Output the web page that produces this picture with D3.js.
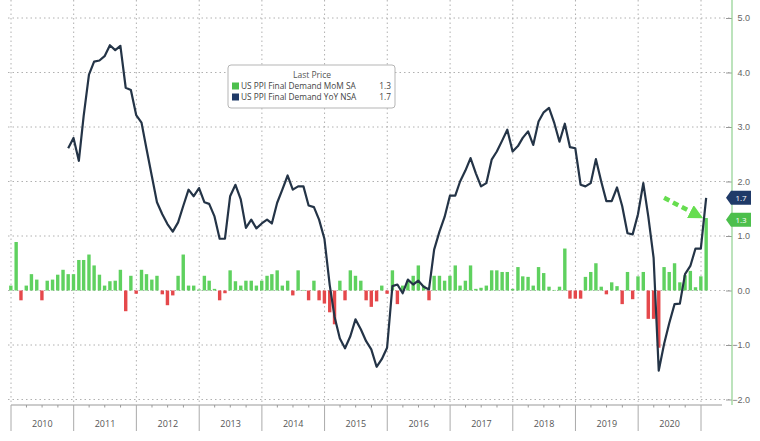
<!DOCTYPE html>
<html>
<head>
<meta charset="utf-8">
<script src="https://cdnjs.cloudflare.com/ajax/libs/d3/7.8.5/d3.min.js"></script>
<style>
body { margin: 0; background: #fff; }
svg { display: block; font-family: "Open Sans", "Liberation Sans", sans-serif; }
</style>
</head>
<body>
<div class="container"></div>
<script>
// monthly PPI final demand, MoM SA starts Dec 2009, YoY NSA starts Nov 2010
var momStart = [2009, 11];
var momValues = [
  0.09,
  0.89, -0.18, 0.09, 0.30, 0.20, -0.18, 0.18, 0.20, 0.29, 0.38, 0.30, 0.30,
  0.56, 0.56, 0.66, 0.46, 0.29, 0.09, 0.17, 0.18, 0.38, -0.38, 0.27, -0.06,
  0.38, 0.30, 0.20, 0.27, -0.07, -0.27, -0.09, 0.27, 0.66, 0.09, 0.09, 0.02,
  0.27, 0.18, 0.03, -0.18, -0.05, 0.37, 0.17, 0.09, 0.18, 0.18, 0.09, 0.18,
  0.27, 0.30, 0.37, 0.09, 0.18, -0.09, 0.37, 0.01, -0.18, 0.18, -0.18, -0.24,
  -0.40, -0.62, 0.18, -0.18, 0.37, 0.27, 0.18, -0.18, -0.30, -0.20, 0.09, -0.06,
  0.37, -0.25, 0.09, 0.18, 0.27, 0.46, 0.09, -0.18, 0.27, 0.27, 0.18, 0.27,
  0.46, 0.09, 0.18, 0.46, 0.03, 0.05, 0.09, 0.37, 0.37, 0.34, 0.34, 0.03,
  0.43, 0.26, 0.25, 0.09, 0.43, 0.32, 0.07, 0.01, 0.07, 0.77, -0.15, -0.15,
  -0.15, 0.25, 0.34, 0.50, 0.07, -0.07, 0.15, 0.08, -0.25, 0.34, -0.16, 0.26,
  0.34, -0.52, -0.52, -1.05, 0.43, 0.34, 0.50, 0.15, 0.28, 0.36, 0.06, 0.26,
  1.33
];
var yoyStart = [2010, 10];
var yoyValues = [
  2.61, 2.80,
  2.38, 3.20, 3.96, 4.20, 4.22, 4.30, 4.50, 4.41, 4.49, 3.72, 3.68, 3.22,
  3.08, 2.60, 2.10, 1.62, 1.40, 1.22, 1.08, 1.25, 1.55, 1.85, 1.73, 1.88,
  1.62, 1.59, 1.36, 0.95, 0.95, 1.73, 1.94, 1.67, 1.15, 1.30, 1.14, 1.23,
  1.30, 1.23, 1.61, 1.85, 2.11, 1.85, 1.91, 1.91, 1.56, 1.53, 1.30, 0.95,
  0.10, -0.48, -0.88, -1.06, -0.84, -0.53, -0.71, -0.93, -1.08, -1.40, -1.26, -1.05,
  0.08, 0.11, -0.05, 0.20, 0.11, 0.18, 0.07, 0.02, 0.75, 1.08, 1.35, 1.74,
  1.74, 2.00, 2.20, 2.43, 2.15, 1.91, 1.97, 2.40, 2.55, 2.75, 2.95, 2.55,
  2.65, 2.80, 2.92, 2.67, 3.10, 3.27, 3.35, 3.07, 2.73, 3.06, 2.63, 2.61,
  1.94, 1.91, 1.97, 2.41, 2.00, 1.64, 1.64, 1.89, 1.55, 1.05, 1.03, 1.40,
  1.97, 1.36, 0.60, -1.47, -0.98, -0.60, -0.25, -0.24, 0.30, 0.45, 0.77, 0.77,
  1.70
];
var yTicks = [-2, -1, 0, 1, 2, 3, 4, 5];
var years = [2010, 2011, 2012, 2013, 2014, 2015, 2016, 2017, 2018, 2019, 2020];
var legendTitle = "Last Price";
var seriesNames = ["US PPI Final Demand MoM SA", "US PPI Final Demand YoY NSA"];
var lastValues = [1.3, 1.7];
// green annotation arrow: [year, month, value]
var arrowFrom = [2020, 4, 1.70];
var arrowTo = [2020, 10, 1.40];

var W = 760, H = 441;
var colors = {
  up: "#5fd15f", down: "#e5484b", line: "#243447",
  navy: "#1f3a68", green: "#4cbf4c", grid: "#b0b0b0", axisGreen: "#8fd08f", text: "#555"
};

function monthEnd(start, i) {
  return new Date(start[0], start[1] + i + 1, 0);
}

var mom = momValues.map(function(v, i) { return {date: monthEnd(momStart, i), value: v}; });
var yoy = yoyValues.map(function(v, i) { return {date: monthEnd(yoyStart, i), value: v}; });

var x = d3.scaleTime()
  .domain([new Date(2010, 0, 1), new Date(2021, 0, 1)])
  .range([11, 701]);
var y = d3.scaleLinear().domain([-2, 5]).range([399.5, 18]);

var svg = d3.select(".container").append("svg")
  .attr("xmlns", "http://www.w3.org/2000/svg")
  .attr("width", W).attr("height", H);

var axisX = 732, baseY = 405;

// grid
svg.append("g").selectAll("line").data(yTicks).enter().append("line")
  .attr("x1", 8).attr("x2", axisX)
  .attr("y1", function(d) { return y(d); }).attr("y2", function(d) { return y(d); })
  .attr("stroke", colors.grid).attr("stroke-width", 1).attr("stroke-dasharray", "1.5,3");

var yearStarts = years.concat([2021]).map(function(yr) { return new Date(yr, 0, 1); });
svg.append("g").selectAll("line").data(yearStarts).enter().append("line")
  .attr("x1", function(d) { return x(d); }).attr("x2", function(d) { return x(d); })
  .attr("y1", 0).attr("y2", baseY)
  .attr("stroke", colors.grid).attr("stroke-width", 1).attr("stroke-dasharray", "1.5,3");

// bars
var bw = 3.4;
svg.append("g").selectAll("rect").data(mom).enter().append("rect")
  .attr("x", function(d) { return x(d.date) - bw / 2; })
  .attr("width", bw)
  .attr("y", function(d) { return y(Math.max(0, d.value)); })
  .attr("height", function(d) { return Math.abs(y(d.value) - y(0)); })
  .attr("fill", function(d) { return d.value >= 0 ? colors.up : colors.down; });

// yoy line
var line = d3.line()
  .x(function(d) { return x(d.date); })
  .y(function(d) { return y(d.value); });
svg.append("path").datum(yoy)
  .attr("d", line)
  .attr("fill", "none")
  .attr("stroke", colors.line)
  .attr("stroke-width", 2.2)
  .attr("stroke-linejoin", "round");

// right axis
var yAxis = d3.axisRight(y).tickValues(yTicks).tickSize(0).tickFormat(d3.format(".1f"));
var gy = svg.append("g").attr("transform", "translate(" + axisX + ",0)").call(yAxis);
gy.select(".domain").remove();
gy.selectAll("text")
  .attr("x", 18).attr("text-anchor", "end")
  .attr("fill", "#666").attr("font-size", 9);
gy.selectAll(".tick").append("line")
  .attr("x1", -6).attr("x2", 0).attr("stroke", "#999");
svg.append("line")
  .attr("x1", axisX).attr("x2", axisX).attr("y1", 0).attr("y2", baseY)
  .attr("stroke", colors.axisGreen).attr("stroke-width", 1.2);

// bottom axis
svg.append("line")
  .attr("x1", 11).attr("x2", 722).attr("y1", baseY).attr("y2", baseY)
  .attr("stroke", "#999");
var quarters = d3.timeMonth.every(3).range(new Date(2010, 0, 1), new Date(2021, 0, 2))
  .filter(function(d) { return d.getMonth() !== 0; });
svg.append("g").selectAll("line").data(quarters).enter().append("line")
  .attr("x1", function(d) { return x(d); }).attr("x2", function(d) { return x(d); })
  .attr("y1", baseY).attr("y2", baseY + 2.5)
  .attr("stroke", "#999");
svg.append("g").selectAll("line").data(yearStarts).enter().append("line")
  .attr("x1", function(d) { return x(d); }).attr("x2", function(d) { return x(d); })
  .attr("y1", baseY).attr("y2", 431)
  .attr("stroke", "#aaa");
svg.append("g").selectAll("text").data(years).enter().append("text")
  .attr("x", function(d) { return (x(new Date(d, 0, 1)) + x(new Date(d + 1, 0, 1))) / 2; })
  .attr("y", 427)
  .attr("text-anchor", "middle")
  .attr("font-size", 9)
  .attr("fill", colors.text)
  .text(function(d) { return d; });

// last value tags
var tagY = lastValues.map(function(v) { return y(v); });
var mid = (tagY[0] + tagY[1]) / 2;
if (Math.abs(tagY[0] - tagY[1]) < 15) { tagY[0] = mid + 7.5; tagY[1] = mid - 7.5; }
var tagColors = [colors.green, colors.navy];
lastValues.forEach(function(v, i) {
  var c = tagY[i];
  svg.append("path")
    .attr("d", "M" + (axisX - 6) + "," + c + "L" + (axisX - 1) + "," + (c - 7) + "L751," + (c - 7) +
      "L751," + (c + 7) + "L" + (axisX - 1) + "," + (c + 7) + "Z")
    .attr("fill", tagColors[i]);
  svg.append("text")
    .attr("x", 741).attr("y", c + 3)
    .attr("text-anchor", "middle").attr("font-size", 8)
    .attr("fill", "#fff")
    .text(d3.format(".1f")(v));
});

// annotation arrow
svg.append("defs").append("marker")
  .attr("id", "head").attr("viewBox", "0 0 10 10")
  .attr("refX", 4).attr("refY", 5)
  .attr("markerWidth", 3.2).attr("markerHeight", 3.2)
  .attr("orient", "auto")
  .append("path").attr("d", "M0,0L10,5L0,10Z").attr("fill", "#66dd4f");
svg.append("line")
  .attr("x1", x(new Date(arrowFrom[0], arrowFrom[1] + 1, 0))).attr("y1", y(arrowFrom[2]))
  .attr("x2", x(new Date(arrowTo[0], arrowTo[1] + 1, 0))).attr("y2", y(arrowTo[2]))
  .attr("stroke", "#66dd4f").attr("stroke-width", 4.5)
  .attr("stroke-dasharray", "6,4")
  .attr("marker-end", "url(#head)");

// legend
var lg = svg.append("g").attr("transform", "translate(228,65)");
lg.append("rect")
  .attr("width", 167).attr("height", 43).attr("rx", 3)
  .attr("fill", "#fff").attr("stroke", "#b5b5b5");
lg.append("text")
  .attr("x", 84).attr("y", 13).attr("text-anchor", "middle")
  .attr("font-size", 8.5).attr("fill", "#555").text(legendTitle);
var legendColors = [colors.green, colors.navy];
seriesNames.forEach(function(name, i) {
  var row = lg.append("g").attr("transform", "translate(0," + (24 + i * 11) + ")");
  row.append("rect").attr("x", 4).attr("y", -6.5).attr("width", 7).attr("height", 7)
    .attr("fill", legendColors[i]);
  row.append("text").attr("x", 13).attr("y", 0)
    .attr("font-size", 8.3).attr("fill", "#444").text(name);
  row.append("text").attr("x", 163).attr("y", 0).attr("text-anchor", "end")
    .attr("font-size", 8.3).attr("fill", "#444").text(d3.format(".1f")(lastValues[i]));
});
</script>
</body>
</html>
